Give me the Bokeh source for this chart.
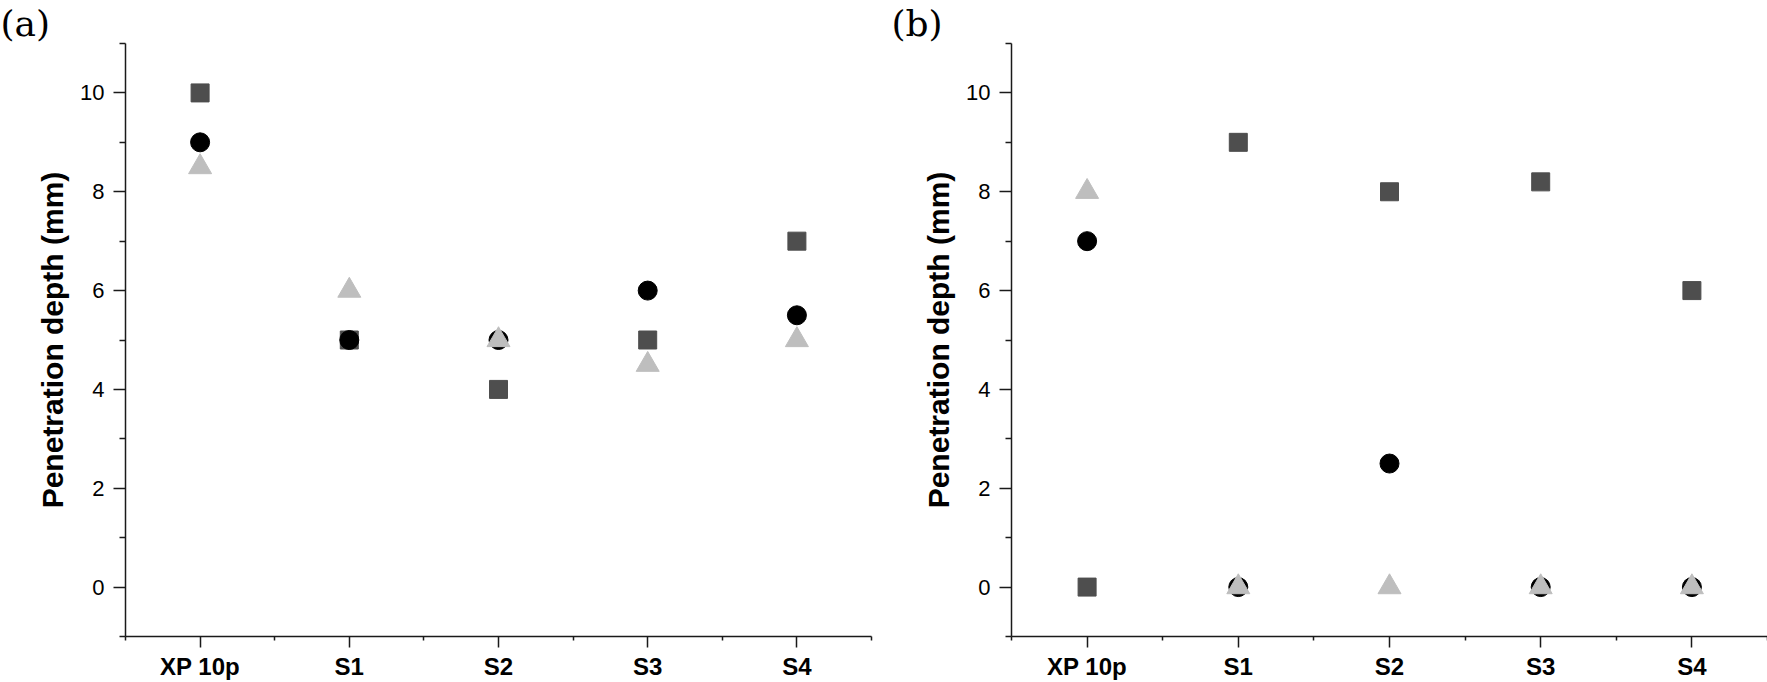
from bokeh.plotting import figure
from bokeh.layouts import row
from bokeh.models import Range1d, FixedTicker, ColumnDataSource
from bokeh.embed import file_html
from bokeh.resources import INLINE

categories = ["XP 10p", "S1", "S2", "S3", "S4"]

a_square = [10, 5, 4, 5, 7]
a_circle = [9, 5, 5, 6, 5.5]
a_triangle = [8.5, 6, 5, 4.5, 5]

b_square = [0, 9, 8, 8.2, 6]
b_circle = [7, 0, 2.5, 0, 0]
b_triangle = [8, 0, 0, 0, 0]

y_ticks = [0, 2, 4, 6, 8, 10]
y_minor = [-1, 1, 3, 5, 7, 9, 11]

positions = [i + 1 for i in range(len(categories))]
x_minor = [p - 0.5 for p in positions] + [positions[-1] + 0.5]

SQ_COLOR = "#4e4e4e"
TRI_COLOR = "#bebebe"
AX_COLOR = "#1a1a1a"


def make_panel(tag, tag_offset, sq, ci, tr, width, border_left, border_right):
    p = figure(width=width, height=682, output_backend="svg", toolbar_location=None,
               x_range=Range1d(0.5, 5.5), y_range=Range1d(-1, 11),
               min_border_left=border_left, min_border_right=border_right,
               min_border_top=42, min_border_bottom=46)
    p.outline_line_color = None
    p.xgrid.visible = False
    p.ygrid.visible = False
    p.background_fill_color = "white"
    p.border_fill_color = "white"

    # panel tag "(a)" / "(b)" in the top border
    p.title.text = tag
    p.title.align = "left"
    p.title.offset = tag_offset
    p.title.standoff = 0
    p.title.text_font = "DejaVu Serif"
    p.title.text_font_style = "normal"
    p.title.text_font_size = "36px"
    p.title.text_color = "black"

    src = ColumnDataSource(dict(x=positions, sq=sq, ci=ci, tr=tr))
    p.scatter("x", "sq", source=src, marker="square", size=18,
              fill_color=SQ_COLOR, line_color=SQ_COLOR)
    p.scatter("x", "ci", source=src, marker="circle", size=19,
              fill_color="black", line_color="black")
    p.scatter("x", "tr", source=src, marker="triangle", size=23,
              fill_color=TRI_COLOR, line_color=TRI_COLOR)

    xa = p.xaxis[0]
    xa.ticker = FixedTicker(ticks=positions, minor_ticks=x_minor)
    xa.major_label_overrides = {pos: c for pos, c in zip(positions, categories)}
    xa.major_label_text_font = "Liberation Sans"
    xa.major_label_text_font_style = "bold"
    xa.major_label_text_font_size = "24px"
    xa.major_label_text_color = "black"
    xa.major_label_standoff = 5
    xa.major_tick_out = 11
    xa.major_tick_in = 0
    xa.minor_tick_out = 4
    xa.minor_tick_in = 0
    xa.axis_line_width = 1.5
    xa.major_tick_line_width = 1.5
    xa.minor_tick_line_width = 1.5
    xa.axis_line_color = AX_COLOR
    xa.major_tick_line_color = AX_COLOR
    xa.minor_tick_line_color = AX_COLOR

    ya = p.yaxis[0]
    ya.ticker = FixedTicker(ticks=y_ticks, minor_ticks=y_minor)
    ya.axis_label = "Penetration depth (mm)"
    ya.axis_label_text_font = "Liberation Sans"
    ya.axis_label_text_font_style = "bold"
    ya.axis_label_text_font_size = "30px"
    ya.axis_label_text_color = "black"
    ya.axis_label_standoff = 8
    ya.major_label_text_font = "Liberation Sans"
    ya.major_label_text_font_style = "normal"
    ya.major_label_text_font_size = "22px"
    ya.major_label_text_color = "black"
    ya.major_label_standoff = 9
    ya.major_tick_out = 12
    ya.major_tick_in = 0
    ya.minor_tick_out = 6
    ya.minor_tick_in = 0
    ya.axis_line_width = 1.5
    ya.major_tick_line_width = 1.5
    ya.minor_tick_line_width = 1.5
    ya.axis_line_color = AX_COLOR
    ya.major_tick_line_color = AX_COLOR
    ya.minor_tick_line_color = AX_COLOR
    return p


pa = make_panel("(a)", -125, a_square, a_circle, a_triangle, 880, 125, 9)
pb = make_panel("(b)", -120, b_square, b_circle, b_triangle, 887, 131, 0)

layout = row(pa, pb)
open("out.html", "w").write(file_html(layout, INLINE))
